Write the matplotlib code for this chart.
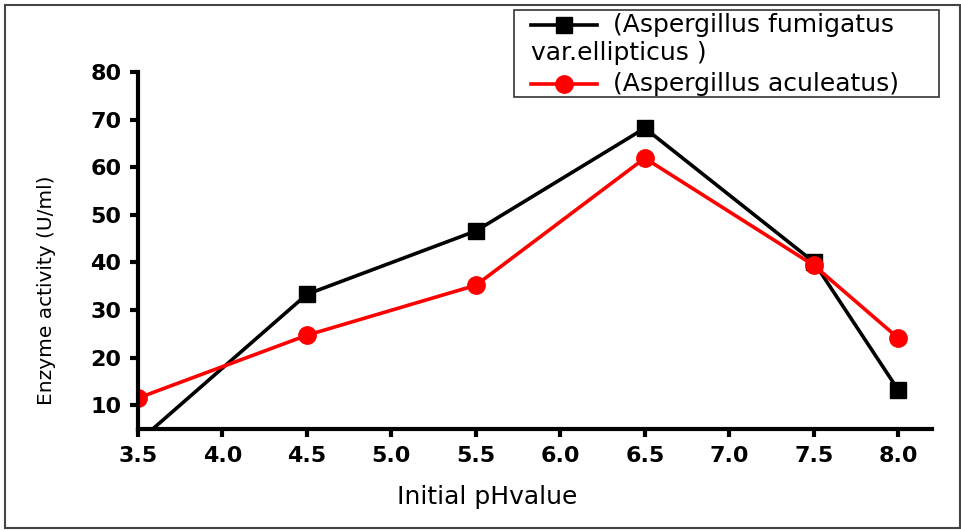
import matplotlib
matplotlib.use("Agg")
import matplotlib.pyplot as plt
from matplotlib.lines import Line2D
from matplotlib.patches import Rectangle

# data
ph = [3.5, 4.5, 5.5, 6.5, 7.5, 8.0]
fumigatus = [2.3, 33.3, 46.6, 68.2, 40.1, 13.2]
aculeatus = [11.5, 24.7, 35.2, 61.9, 39.4, 24.1]
x_ticks = [3.5, 4.0, 4.5, 5.0, 5.5, 6.0, 6.5, 7.0, 7.5, 8.0]
y_ticks = [10, 20, 30, 40, 50, 60, 70, 80]
label_fum_1 = "(Aspergillus fumigatus"
label_fum_2 = "var.ellipticus )"
label_acu = "(Aspergillus aculeatus)"

W, H = 962, 531
fig = plt.figure(figsize=(W / 100, H / 100), dpi=100)

def fx(px):
    return px / W

def fy(py):
    return 1 - py / H

ax = fig.add_axes([fx(138), fy(429), fx(932) - fx(138), fy(72) - fy(429)])

ax.plot(ph, fumigatus, color="black", lw=2.6, marker="s", ms=11)
ax.plot(ph, aculeatus, color="red", lw=2.6, marker="o", ms=12.5)

ax.set_xlim(3.5, 8.2)
ax.set_ylim(5, 80)
ax.set_xticks(x_ticks)
ax.set_yticks(y_ticks)
ax.set_xticklabels([f"{v:.1f}" for v in x_ticks])
for s in ["top", "right"]:
    ax.spines[s].set_visible(False)
for s in ["left", "bottom"]:
    ax.spines[s].set_linewidth(3)
ax.tick_params(width=3, length=6, labelsize=16, pad=6)
for t in ax.get_xticklabels() + ax.get_yticklabels():
    t.set_fontweight("bold")

# axis labels
fig.text(fx(487), fy(497), "Initial pHvalue", fontsize=18, ha="center", va="center")
fig.text(fx(47), fy(290), "Enzyme activity (U/ml)", fontsize=14.5, rotation=90,
         ha="center", va="center")

# legend box (first label wraps under the handle like the original)
fig.add_artist(Rectangle((fx(514), fy(97)), fx(939) - fx(514), fy(10) - fy(97),
                         transform=fig.transFigure, fill=False, ec="#333333", lw=1.2))
fig.add_artist(Line2D([fx(531), fx(597)], [fy(25), fy(25)], transform=fig.transFigure,
                      color="black", lw=2.6))
fig.add_artist(Line2D([fx(564)], [fy(25)], transform=fig.transFigure,
                      color="black", marker="s", ms=11, ls="none"))
fig.text(fx(613), fy(25), label_fum_1, fontsize=18, va="center")
fig.text(fx(531), fy(53), label_fum_2, fontsize=18, va="center")
fig.add_artist(Line2D([fx(531), fx(597)], [fy(84), fy(84)], transform=fig.transFigure,
                      color="red", lw=2.6))
fig.add_artist(Line2D([fx(564)], [fy(84)], transform=fig.transFigure,
                      color="red", marker="o", ms=12.5, ls="none"))
fig.text(fx(613), fy(84), label_acu, fontsize=18, va="center")

# outer frame
fig.add_artist(Rectangle((fx(5), fy(528)), fx(960) - fx(5), fy(5) - fy(528),
                         transform=fig.transFigure, fill=False, ec="#444444", lw=1.5))

fig.savefig("out.png", dpi=100)
